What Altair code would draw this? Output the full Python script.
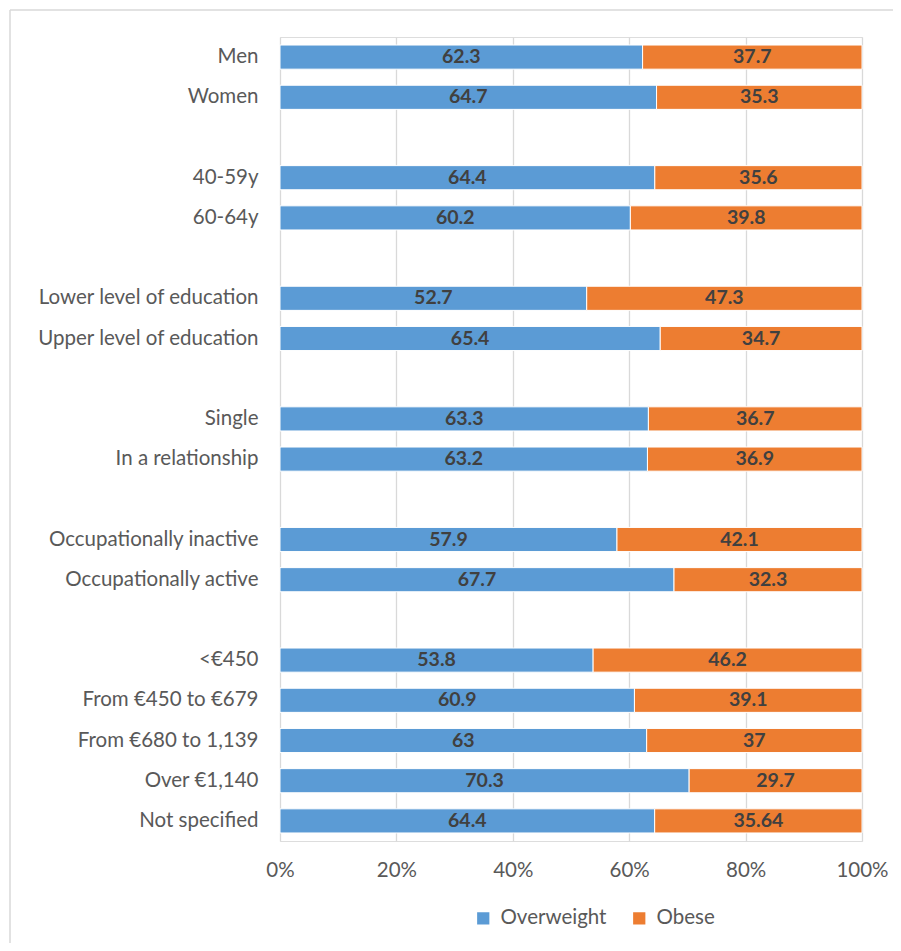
import altair as alt
import pandas as pd

categories = ["Men", "Women", " ",
              "40-59y", "60-64y", "  ",
              "Lower level of education", "Upper level  of education", "   ",
              "Single", "In a relationship", "    ",
              "Occupationally inactive", "Occupationally active", "     ",
              "<€450", "From €450 to €679", "From €680 to 1,139", "Over €1,140", "Not specified"]

real_cats = ["Men", "Women", "40-59y", "60-64y",
             "Lower level of education", "Upper level  of education",
             "Single", "In a relationship",
             "Occupationally inactive", "Occupationally active",
             "<€450", "From €450 to €679", "From €680 to 1,139", "Over €1,140", "Not specified"]
overweight = [62.3, 64.7, 64.4, 60.2, 52.7, 65.4, 63.3, 63.2, 57.9, 67.7, 53.8, 60.9, 63, 70.3, 64.4]
obese = [37.7, 35.3, 35.6, 39.8, 47.3, 34.7, 36.7, 36.9, 42.1, 32.3, 46.2, 39.1, 37, 29.7, 35.64]
series = ["Overweight", "Obese"]
colors = ["#5B9BD5", "#ED7D31"]

rows = []
for c, a, b in zip(real_cats, overweight, obese):
    rows.append({"cat": c, "series": "Overweight", "value": a, "order": 0})
    rows.append({"cat": c, "series": "Obese", "value": b, "order": 1})
df = pd.DataFrame(rows)

FONT = "Lato"
FS = 20.5
W, H = 582, 804

base = alt.Chart(df).transform_stack(
    stack="value", groupby=["cat"], as_=["v0", "v1"], offset="normalize",
    sort=[alt.SortField("order", order="ascending")]
).transform_calculate(mid="(datum.v0 + datum.v1) / 2")

yenc = alt.Y("cat:N", sort=categories,
             scale=alt.Scale(domain=categories, paddingInner=0.4, paddingOuter=0.2),
             axis=alt.Axis(title=None, ticks=False, domain=False, labelPadding=22,
                           labelFontSize=FS, labelFont=FONT, labelColor="#595959",
                           labelLimit=400))

bars = base.mark_bar(stroke="white", strokeWidth=1).encode(
    x=alt.X("v0:Q", scale=alt.Scale(domain=[0, 1]),
            axis=alt.Axis(format="%", values=[0, 0.2, 0.4, 0.6, 0.8, 1.0], title=None,
                          ticks=False, domain=False, grid=True, gridColor="#D9D9D9",
                          gridWidth=1.3, labelPadding=19, labelFontSize=FS,
                          labelFlush=False,
                          labelFont=FONT, labelColor="#595959")),
    x2="v1:Q",
    y=yenc,
    color=alt.Color("series:N", scale=alt.Scale(domain=series, range=colors),
                    legend=alt.Legend(title=None, orient="none", legendX=193, legendY=871,
                                      direction="horizontal", symbolType="square",
                                      symbolSize=150, symbolStrokeWidth=0,
                                      labelFontSize=FS, labelFont=FONT,
                                      labelColor="#595959", columnPadding=22,
                                      labelOffset=7)),
    order=alt.Order("order:Q"),
)

labels = base.mark_text(font=FONT, fontSize=19.5, fontWeight="bold", color="#404040",
                        baseline="middle", align="center").encode(
    x="mid:Q",
    y=alt.Y("cat:N", sort=categories),
    text=alt.Text("value:Q"),
)

frame = pd.DataFrame({"a": [0]})
border_left = alt.Chart(frame).mark_rule(color="#D9D9D9", strokeWidth=1.5, clip=False).encode(
    x=alt.value(-270), y=alt.value(-27), y2=alt.value(906))
border_top = alt.Chart(frame).mark_rule(color="#D9D9D9", strokeWidth=1.5, clip=False).encode(
    x=alt.value(-270), x2=alt.value(613), y=alt.value(-27))

chart = alt.layer(border_left, border_top, bars, labels).properties(
    width=W, height=H,
    autosize=alt.AutoSizeParams(type="none"),
    padding={"left": 272, "top": 29, "right": 31, "bottom": 102},
).configure_view(stroke=None).configure(background="white")

chart.save("out.html", embed_options={"renderer": "svg", "actions": False})
